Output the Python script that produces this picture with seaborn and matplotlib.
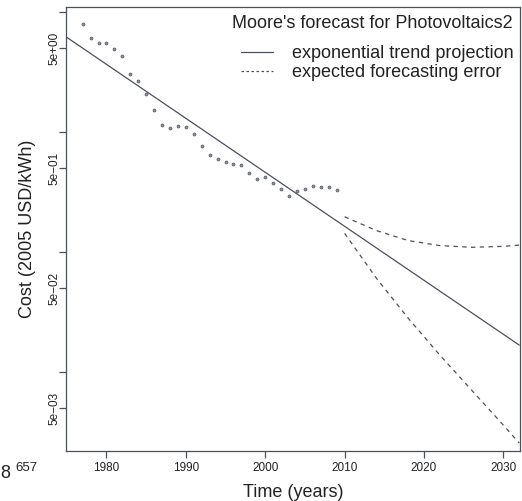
import matplotlib
matplotlib.use("Agg")
import matplotlib.pyplot as plt
import seaborn as sns
import pandas as pd
from matplotlib.lines import Line2D
from matplotlib.ticker import FixedLocator, FixedFormatter, NullLocator

# Observed photovoltaic module cost (2005 USD/kWh)
years = list(range(1977, 2010))
cost = [7.97, 6.13, 5.53, 5.53, 4.91, 4.34, 3.07, 2.65, 2.07, 1.53, 1.16,
        1.08, 1.12, 1.11, 0.969, 0.770, 0.642, 0.594, 0.568, 0.540, 0.533,
        0.454, 0.407, 0.426, 0.379, 0.339, 0.293, 0.325, 0.334, 0.356,
        0.349, 0.347, 0.328]

# Exponential trend (Moore's law fit), end points
trend_years = [1975, 2032]
trend_cost = [6.18, 0.01685]

# Expected forecasting error band around the projection
err_years = [2010, 2014, 2018, 2022, 2026, 2030, 2032]
err_upper = [0.1976, 0.1517, 0.1252, 0.1137, 0.110, 0.112, 0.1148]
err_lower = [0.1437, 0.0609, 0.02828, 0.0139, 0.0071, 0.00363, 0.00257]

# Axis ticks
x_ticks = [1980, 1990, 2000, 2010, 2020, 2030]
y_ticks = [5e-3, 1e-2, 5e-2, 1e-1, 5e-1, 1, 5, 10]
y_tick_labels = ["5e\u221203", "", "5e\u221202", "", "5e\u221201", "", "5e+00", ""]

sns.set_theme(style="white")
plt.rcParams["font.family"] = ["Liberation Sans", "DejaVu Sans"]

ink = "#4b505c"
text_col = "#222222"
W, H = 522, 501

fig = plt.figure(figsize=(W / 100, H / 100), dpi=100)
ax = fig.add_axes([66 / W, 1 - 450.7 / H, (520 - 66) / W, (450.7 - 7.3) / H])

obs = pd.DataFrame({"year": years, "cost": cost})
sns.scatterplot(data=obs, x="year", y="cost", ax=ax, marker="o", s=4.5,
                color="#8a8f9a", edgecolor="#5a5f6b", linewidth=0.55, zorder=3)

sns.lineplot(x=trend_years, y=trend_cost, ax=ax, color=ink, lw=0.9)
sns.lineplot(x=err_years, y=err_upper, ax=ax, color=ink, lw=0.9,
             linestyle=(0, (3.5, 3.5)))
sns.lineplot(x=err_years, y=err_lower, ax=ax, color=ink, lw=0.9,
             linestyle=(0, (3.5, 3.5)))

ax.set_yscale("log")
ax.set_xlim(1974.9, 2032.1)
ax.set_ylim(2.22e-3, 11.0)

ax.xaxis.set_major_locator(FixedLocator(x_ticks))
ax.yaxis.set_major_locator(FixedLocator(y_ticks))
ax.yaxis.set_major_formatter(FixedFormatter(y_tick_labels))
ax.yaxis.set_minor_locator(NullLocator())

ax.tick_params(axis="both", direction="out", length=5, width=0.9, color=ink,
               labelsize=8.5, labelcolor=text_col, bottom=True, left=True, pad=3)
ax.tick_params(axis="y", pad=-1.0)
for lab in ax.get_yticklabels():
    lab.set_rotation(90)
    lab.set_va("center")

for sp in ax.spines.values():
    sp.set_color(ink)
    sp.set_linewidth(0.9)

ax.set_xlabel("Time (years)", fontsize=13, color=text_col, labelpad=7)
ax.set_ylabel("Cost (2005 USD/kWh)", fontsize=13, color=text_col, labelpad=9)

# Legend: title line and two entries in the upper right corner
fig.text(372.5 / W, 1 - 23 / H, "Moore's forecast for Photovoltaics2",
         fontsize=13, color=text_col, ha="center", va="center")
handles = [Line2D([], [], color=ink, lw=0.9),
           Line2D([], [], color=ink, lw=0.9, linestyle=(0, (2, 2)))]
leg = ax.legend(handles, ["exponential trend projection", "expected forecasting error"],
                loc="upper right", bbox_to_anchor=(514 / W, 1 - 45 / H),
                bbox_transform=fig.transFigure, frameon=False, fontsize=13,
                handlelength=1.8, handletextpad=1.05, labelspacing=0.12,
                borderpad=0, borderaxespad=0)
for t in leg.get_texts():
    t.set_color(text_col)

# Page number fragment at the lower left edge
fig.text(10 / W, 1 - 478 / H, "8", fontsize=13, color=text_col, ha="right", va="baseline")
fig.text(15 / W, 1 - 471 / H, "657", fontsize=9.5, color=text_col, ha="left", va="baseline")

fig.savefig("out.png", dpi=100)
